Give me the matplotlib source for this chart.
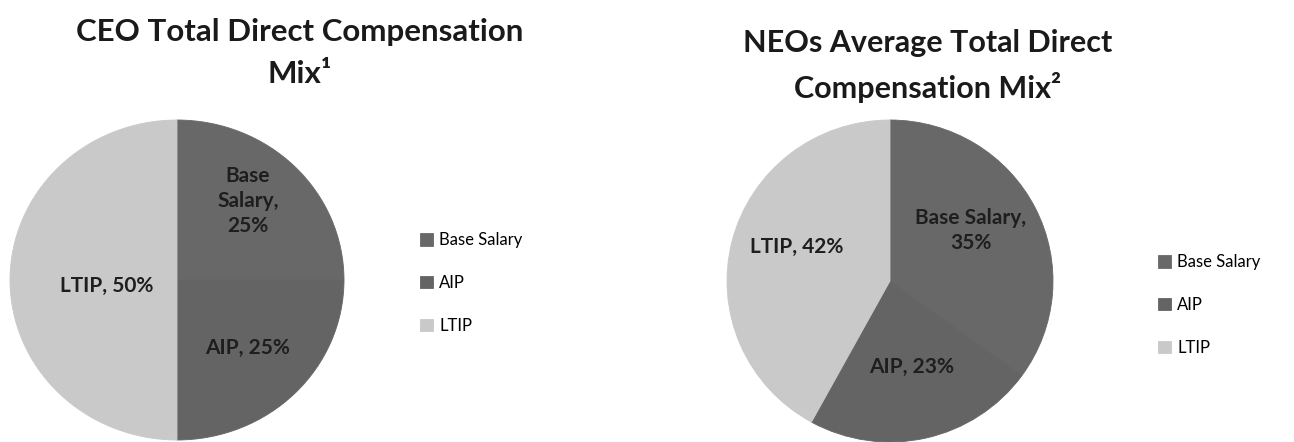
import matplotlib
matplotlib.use("Agg")
import matplotlib.pyplot as plt
import numpy as np

categories = ["Base Salary", "AIP", "LTIP"]
ceo_values = [25, 25, 50]
neo_values = [35, 23, 42]
ceo_title = "CEO Total Direct Compensation\nMix¹"
neo_title = "NEOs Average Total Direct\nCompensation Mix²"
ceo_labels = ["Base\nSalary,\n25%", "AIP, 25%", "LTIP, 50%"]
neo_labels = ["Base Salary,\n35%", "AIP, 23%", "LTIP, 42%"]

colors = ["#686868", "#646464", "#c9c9c9"]
W, H = 1294, 442
FONT = ["Lato", "DejaVu Sans"]

fig = plt.figure(figsize=(W / 100, H / 100), dpi=100)
fig.patch.set_facecolor("white")


def px_axes(x0, y0, w, h):
    return fig.add_axes([x0 / W, 1 - (y0 + h) / H, w / W, h / H])


def draw_pie(box, values, labels, label_pos, legend_anchor):
    ax = px_axes(*box)
    wedges, _ = ax.pie(values, colors=colors, startangle=90, counterclock=False,
                       radius=1, wedgeprops=dict(linewidth=0.6))
    for w in wedges:
        w.set_edgecolor(w.get_facecolor())
    ax.set_xlim(-1.0, 1.0)
    ax.set_ylim(-1.0, 1.0)
    ax.set_aspect("auto")
    ax.axis("off")
    for w, lab, (r, dx, dy) in zip(wedges, labels, label_pos):
        ang = np.deg2rad((w.theta1 + w.theta2) / 2)
        ax.text(r * np.cos(ang) + dx, r * np.sin(ang) + dy, lab, ha="center", va="center",
                fontsize=15, fontweight="bold", color="#1e1e1e", family=FONT,
                linespacing=1.3)
    fig.legend(wedges, categories, loc="center left",
               bbox_to_anchor=legend_anchor, frameon=False,
               prop=dict(family=FONT, size=12), handlelength=0.75,
               handleheight=0.75, handletextpad=0.4, labelspacing=1.6)
    return ax


# left pie
draw_pie((10, 120, 334, 320), ceo_values, ceo_labels,
         [(0.6, 0.0, 0.07), (0.6, 0.0, -0.0), (0.4, -0.02, -0.04)],
         (405 / W, 1 - 283 / H))
# right pie
draw_pie((727, 120, 326, 322), neo_values, neo_labels,
         [(0.6, -0.04, 0.04), (0.6, 0.0, 0.05), (0.55, -0.04, 0.075)],
         (1143 / W, 1 - 305 / H))

fig.text(300 / W, 1 - 53 / H, ceo_title, ha="center", va="center", fontsize=22.5,
         fontweight="bold", family=FONT, color="#1a1a1a", linespacing=1.6)
fig.text(928 / W, 1 - 66 / H, neo_title, ha="center", va="center", fontsize=22,
         fontweight="bold", family=FONT, color="#1a1a1a", linespacing=1.6)

fig.savefig("out.png", dpi=100, facecolor="white")
